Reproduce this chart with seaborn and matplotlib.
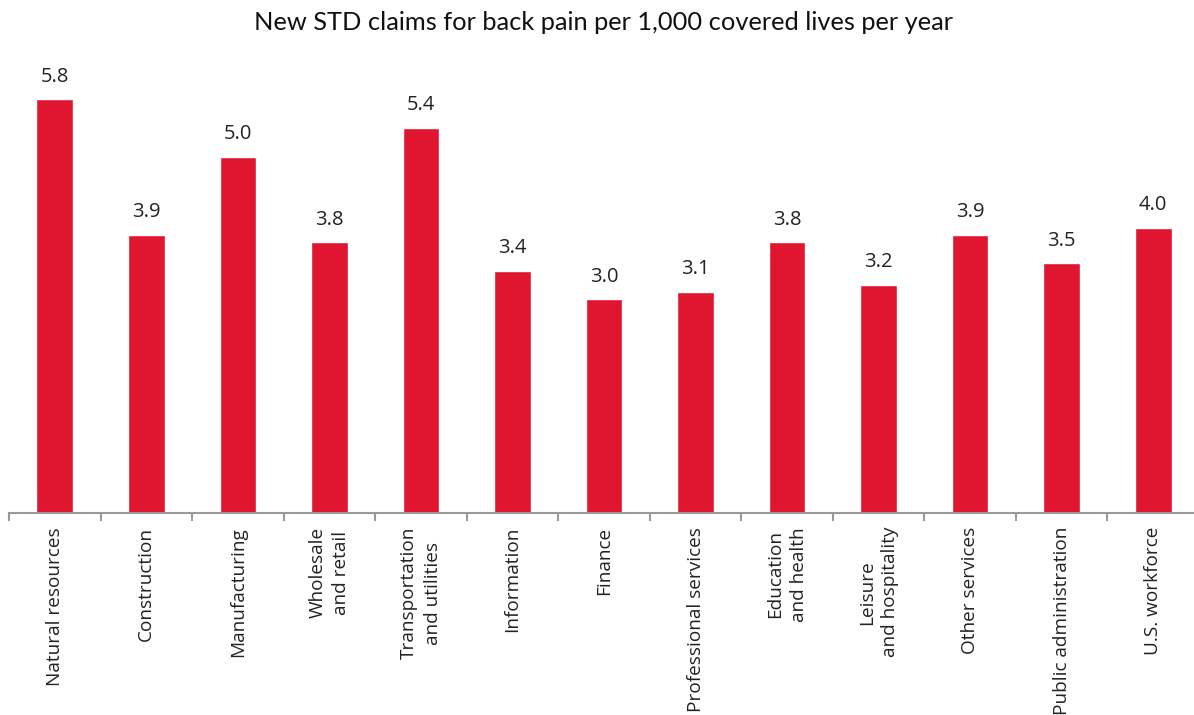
import matplotlib
matplotlib.use("Agg")
import matplotlib.pyplot as plt
import seaborn as sns
import pandas as pd
import numpy as np

categories = ["Natural resources", "Construction", "Manufacturing", "Wholesale\nand retail",
              "Transportation\nand utilities", "Information", "Finance", "Professional services",
              "Education\nand health", "Leisure\nand hospitality", "Other services",
              "Public administration", "U.S. workforce"]
values = [5.8, 3.9, 5.0, 3.8, 5.4, 3.4, 3.0, 3.1, 3.8, 3.2, 3.9, 3.5, 4.0]
title = "New STD claims for back pain per 1,000 covered lives per year"

sns.set_theme(style="white")
plt.rcParams['font.family'] = ['Open Sans', 'DejaVu Sans']

W, H = 1194, 715
fig = plt.figure(figsize=(W / 100, H / 100), dpi=100)
base_px = 513
top_px = 60
ax = fig.add_axes([9 / W, (H - base_px) / H, (1199 - 9) / W, (base_px - top_px) / H])

df = pd.DataFrame({"cat": categories, "val": values})
red = "#E01530"
sns.barplot(data=df, x="cat", y="val", color=red, width=0.4, ax=ax, saturation=1)

ax.set_xlim(-0.5, len(categories) - 0.5)
ax.set_ylim(0, (base_px - top_px) / 71.3)

for i, v in enumerate(values):
    ax.annotate(f"{v:.1f}", (i, v), xytext=(0, 9), textcoords="offset points",
                ha="center", va="bottom", fontsize=14.5, color="#222222")

for s in ["top", "right", "left"]:
    ax.spines[s].set_visible(False)
ax.spines["bottom"].set_color("#999999")
ax.spines["bottom"].set_linewidth(1.5)
ax.set_yticks([])
ax.set_xlabel("")
ax.set_ylabel("")
ax.set_xticks(np.arange(len(categories)))
ax.set_xticklabels(categories, rotation=90, ha="center", va="top", multialignment="center",
                   fontsize=13.7, color="#222222", linespacing=1.4)
ax.tick_params(axis="x", which="major", length=0, pad=10)
ax.set_xticks(np.arange(-0.5, len(categories)), minor=True)
ax.tick_params(axis="x", which="minor", length=6, width=1.5, color="#999999", direction="out", bottom=True)

fig.text(604 / W, 1 - 22 / H, title, ha="center", va="center", fontsize=18.3,
         family=["Lato", "DejaVu Sans"], color="#111111")

fig.savefig("out.png", dpi=100)
